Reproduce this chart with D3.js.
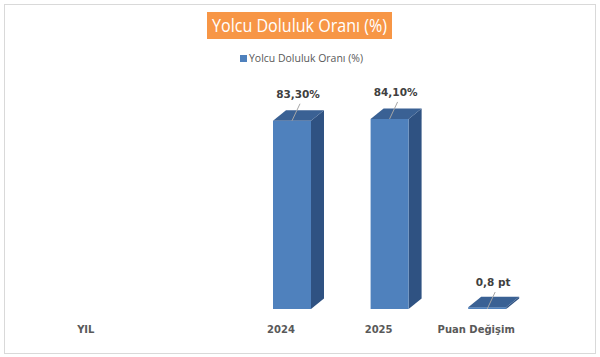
<!DOCTYPE html>
<html><head><meta charset="utf-8">
<script src="https://cdn.jsdelivr.net/npm/d3@7"></script>
<style>body{margin:0;background:#fff}</style>
</head><body>
<svg id="c" width="600" height="357"></svg>
<script>
const categories = ["YIL", "", "2024", "2025", "Puan Değişim"];
const values = [null, null, 83.3, 84.1, 0.8];
const valueLabels = [null, null, "83,30%", "84,10%", "0,8 pt"];
const seriesName = "Yolcu Doluluk Oranı (%)";
const title = "Yolcu Doluluk Oranı (%)";

const svg = d3.select("#c");
svg.append("rect").attr("x",0).attr("y",0).attr("width",600).attr("height",357).attr("fill","#fff");
svg.append("rect").attr("x",4.5).attr("y",4.5).attr("width",591).attr("height",349)
  .attr("fill","#fff").attr("stroke","#d9d9d9").attr("stroke-width",1);

// title
svg.append("rect").attr("x",207).attr("y",12).attr("width",185).attr("height",27).attr("fill","#F79646");
svg.append("text").attr("x",299.5).attr("y",32).attr("text-anchor","middle")
  .attr("font-family","Open Sans").attr("font-size",18).attr("fill","#fff")
  .attr("textLength",175).attr("lengthAdjust","spacingAndGlyphs").text(title);

// legend
svg.append("rect").attr("x",240).attr("y",55).attr("width",7).attr("height",7).attr("fill","#4F81BD");
svg.append("text").attr("x",249).attr("y",62).attr("font-family","Open Sans").attr("font-size",10.5)
  .attr("fill","#595959").attr("textLength",114).attr("lengthAdjust","spacingAndGlyphs").text(seriesName);

const x = d3.scaleBand().domain(categories).range([37, 525]).padding(0);
const y = d3.scaleLinear().domain([0, 100]).range([309, 83]);
const barW = 38, off = 11, dx = 13, dy = -10.5;

const data = categories.map((c,i)=>({c, v: values[i], lab: valueLabels[i]})).filter(d=>d.v!=null);
const g = svg.append("g");
data.forEach(d=>{
  const cx = x(d.c) + x.bandwidth()/2 + off;
  const x0 = cx - barW/2, x1 = cx + barW/2;
  const yt = y(d.v), yb = y(0);
  // side
  g.append("path").attr("d",`M${x1},${yb}L${x1+dx},${yb+dy}L${x1+dx},${yt+dy}L${x1},${yt}Z`).attr("fill","#2F5282");
  // front
  g.append("rect").attr("x",x0).attr("y",yt).attr("width",barW).attr("height",yb-yt).attr("fill","#4F81BD");
  // top
  g.append("path").attr("d",`M${x0},${yt}L${x0+dx},${yt+dy}L${x1+dx},${yt+dy}L${x1},${yt}Z`).attr("fill","#3A6194");
  // leader + label
  const lx0 = cx, ly0 = d.v < 5 ? yb : yt;
  g.append("line").attr("x1",lx0).attr("y1",ly0).attr("x2",lx0+8).attr("y2",ly0-17)
    .attr("stroke","#a6a6a6").attr("stroke-width",1);
  g.append("text").attr("x",cx+6).attr("y",ly0-23).attr("text-anchor","middle")
    .attr("font-family","DejaVu Sans").attr("font-weight","bold").attr("font-size",10.5)
    .attr("fill","#404040").text(d.lab);
});

// category axis labels
const ax = d3.axisBottom(x).tickSize(0).tickPadding(0);
const axg = svg.append("g").attr("transform","translate(0,326)").call(ax);
axg.select(".domain").remove();
axg.selectAll("text").attr("font-family","DejaVu Sans").attr("font-weight","bold")
  .attr("font-size",10).attr("fill","#595959").attr("dy","0.71em");
</script>
</body></html>
